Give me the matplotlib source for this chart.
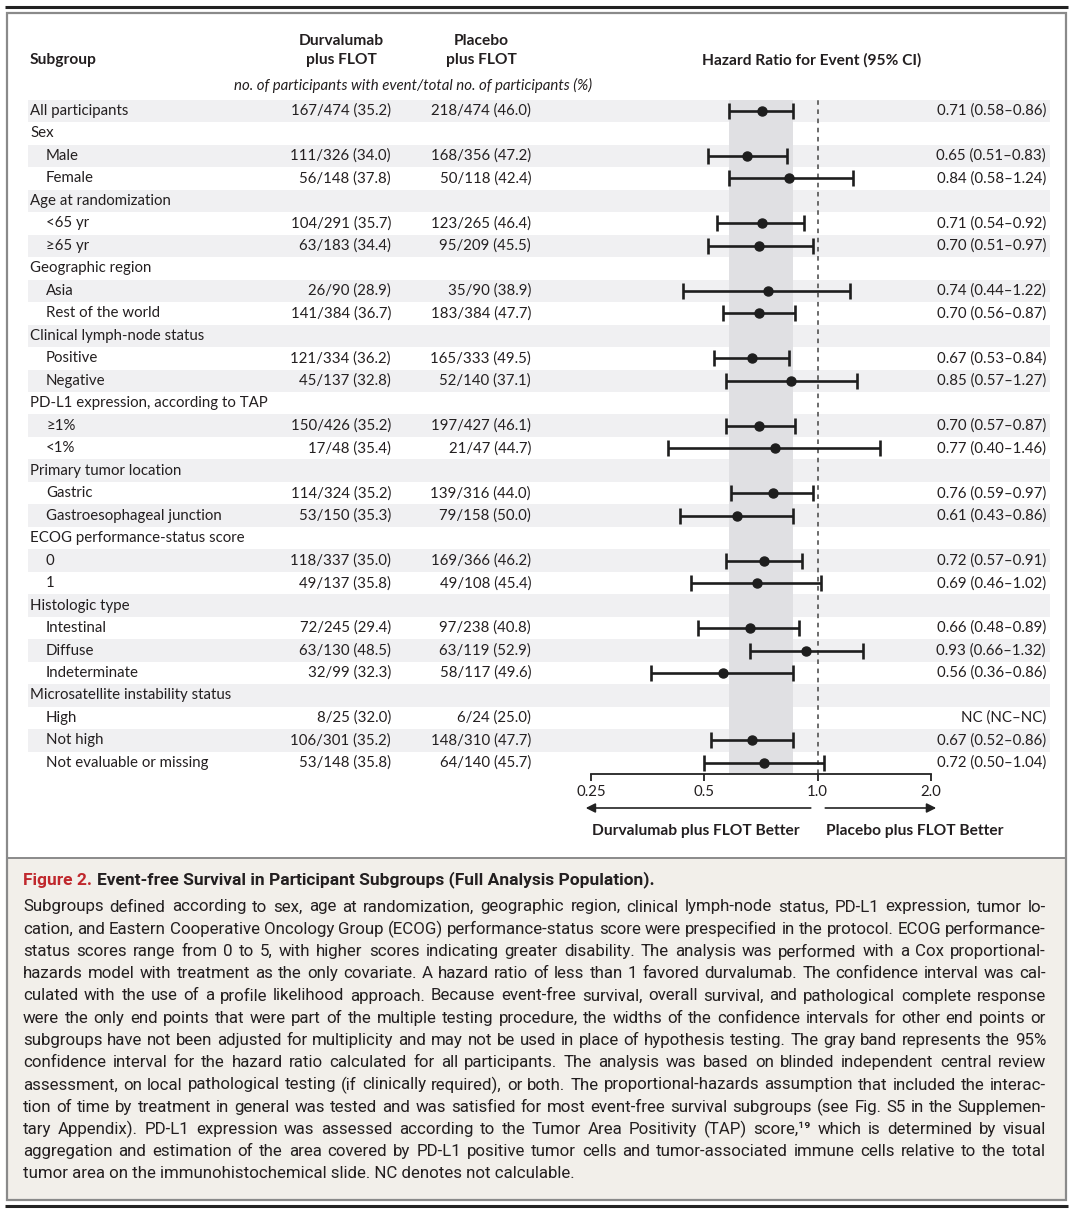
import numpy as np
import matplotlib
matplotlib.use("Agg")
import matplotlib.pyplot as plt
from matplotlib.patches import Rectangle

# ---- data ----
labels = ["All participants", "Sex", "Male", "Female", "Age at randomization", "<65 yr", "\u226565 yr",
          "Geographic region", "Asia", "Rest of the world", "Clinical lymph-node status", "Positive", "Negative",
          "PD-L1 expression, according to TAP", "\u22651%", "<1%", "Primary tumor location", "Gastric",
          "Gastroesophageal junction", "ECOG performance-status score", "0", "1", "Histologic type",
          "Intestinal", "Diffuse", "Indeterminate", "Microsatellite instability status", "High", "Not high",
          "Not evaluable or missing"]
indent = [0, 0, 1, 1, 0, 1, 1, 0, 1, 1, 0, 1, 1, 0, 1, 1, 0, 1, 1, 0, 1, 1, 0, 1, 1, 1, 0, 1, 1, 1]
durv = ["167/474 (35.2)", "", "111/326 (34.0)", "56/148 (37.8)", "", "104/291 (35.7)", "63/183 (34.4)",
        "", "26/90 (28.9)", "141/384 (36.7)", "", "121/334 (36.2)", "45/137 (32.8)", "", "150/426 (35.2)",
        "17/48 (35.4)", "", "114/324 (35.2)", "53/150 (35.3)", "", "118/337 (35.0)", "49/137 (35.8)", "",
        "72/245 (29.4)", "63/130 (48.5)", "32/99 (32.3)", "", "8/25 (32.0)", "106/301 (35.2)", "53/148 (35.8)"]
plac = ["218/474 (46.0)", "", "168/356 (47.2)", "50/118 (42.4)", "", "123/265 (46.4)", "95/209 (45.5)",
        "", "35/90 (38.9)", "183/384 (47.7)", "", "165/333 (49.5)", "52/140 (37.1)", "", "197/427 (46.1)",
        "21/47 (44.7)", "", "139/316 (44.0)", "79/158 (50.0)", "", "169/366 (46.2)", "49/108 (45.4)", "",
        "97/238 (40.8)", "63/119 (52.9)", "58/117 (49.6)", "", "6/24 (25.0)", "148/310 (47.7)", "64/140 (45.7)"]
nan = np.nan
hr = [0.71, nan, 0.65, 0.84, nan, 0.71, 0.70, nan, 0.74, 0.70, nan, 0.67, 0.85, nan, 0.70, 0.77, nan,
      0.76, 0.61, nan, 0.72, 0.69, nan, 0.66, 0.93, 0.56, nan, nan, 0.67, 0.72]
lo = [0.58, nan, 0.51, 0.58, nan, 0.54, 0.51, nan, 0.44, 0.56, nan, 0.53, 0.57, nan, 0.57, 0.40, nan,
      0.59, 0.43, nan, 0.57, 0.46, nan, 0.48, 0.66, 0.36, nan, nan, 0.52, 0.50]
hi = [0.86, nan, 0.83, 1.24, nan, 0.92, 0.97, nan, 1.22, 0.87, nan, 0.84, 1.27, nan, 0.87, 1.46, nan,
      0.97, 0.86, nan, 0.91, 1.02, nan, 0.89, 1.32, 0.86, nan, nan, 0.86, 1.04]
ticks = [0.25, 0.5, 1.0, 2.0]
tick_labels = ["0.25", "0.5", "1.0", "2.0"]

caption_lines = [
    "Subgroups defined according to sex, age at randomization, geographic region, clinical lymph-node status, PD-L1 expression, tumor lo-",
    "cation, and Eastern Cooperative Oncology Group (ECOG) performance-status score were prespecified in the protocol. ECOG performance-",
    "status scores range from 0 to 5, with higher scores indicating greater disability. The analysis was performed with a Cox proportional-",
    "hazards model with treatment as the only covariate. A hazard ratio of less than 1 favored durvalumab. The confidence interval was cal-",
    "culated with the use of a profile likelihood approach. Because event-free survival, overall survival, and pathological complete response",
    "were the only end points that were part of the multiple testing procedure, the widths of the confidence intervals for other end points or",
    "subgroups have not been adjusted for multiplicity and may not be used in place of hypothesis testing. The gray band represents the 95%",
    "confidence interval for the hazard ratio calculated for all participants. The analysis was based on blinded independent central review",
    "assessment, on local pathological testing (if clinically required), or both. The proportional-hazards assumption that included the interac-",
    "tion of time by treatment in general was tested and was satisfied for most event-free survival subgroups (see Fig. S5 in the Supplemen-",
    "tary Appendix). PD-L1 expression was assessed according to the Tumor Area Positivity (TAP) score,\u00b9\u2079 which is determined by visual",
    "aggregation and estimation of the area covered by PD-L1 positive tumor cells and tumor-associated immune cells relative to the total",
    "tumor area on the immunohistochemical slide. NC denotes not calculable.",
]


def hr_text(h, l, u):
    if np.isnan(h):
        return "NC (NC\u2013NC)"
    return "%.2f (%.2f\u2013%.2f)" % (h, l, u)


FONT = ["Lato", "DejaVu Sans"]
CAPFONT = ["Roboto", "DejaVu Sans"]
TXT = "#231f20"
FS = 10.8
BFS = 11.2

fig = plt.figure(figsize=(10.8, 12.16), dpi=100)
bg = fig.add_axes([0, 0, 1, 1])
bg.set_xlim(0, 1080)
bg.set_ylim(1216, 0)
bg.axis("off")

# frame
bg.plot([5, 1068], [7, 7], color="#222222", lw=2.2, solid_capstyle="butt")
bg.plot([5, 1068], [1206, 1206], color="#222222", lw=2.2, solid_capstyle="butt")
bg.add_patch(Rectangle((7, 858), 1059, 342, facecolor="#f2efea", edgecolor="none"))
bg.add_patch(Rectangle((7, 13), 1059, 1187, facecolor="none", edgecolor="#8a8a8a", lw=1.6))
bg.plot([7, 1066], [858, 858], color="#8a8a8a", lw=1.4)

row0 = 111
rowh = 22.48
n = len(labels)

# row shading
for i in range(0, n, 2):
    bg.add_patch(Rectangle((28, row0 + i * rowh - rowh / 2), 1022, rowh, facecolor="#f0f0f2", edgecolor="none"))

# headers
bg.text(30, 60, "Subgroup", fontsize=BFS, fontweight="bold", family=FONT, color=TXT, va="center")
bg.text(341, 41, "Durvalumab", fontsize=BFS, fontweight="bold", family=FONT, color=TXT, va="center", ha="center")
bg.text(341, 60, "plus FLOT", fontsize=BFS, fontweight="bold", family=FONT, color=TXT, va="center", ha="center")
bg.text(481, 41, "Placebo", fontsize=BFS, fontweight="bold", family=FONT, color=TXT, va="center", ha="center")
bg.text(481, 60, "plus FLOT", fontsize=BFS, fontweight="bold", family=FONT, color=TXT, va="center", ha="center")
bg.text(413, 85, "no. of participants with event/total no. of participants (%)", fontsize=FS, style="italic",
        family=FONT, color=TXT, va="center", ha="center")
bg.text(812, 60, "Hazard Ratio for Event (95% CI)", fontsize=BFS, fontweight="bold", family=FONT, color=TXT,
        va="center", ha="center")

for i in range(n):
    y = row0 + i * rowh
    bg.text(30 + 16 * indent[i], y, labels[i], fontsize=FS, family=FONT, color=TXT, va="center")
    if durv[i]:
        bg.text(391, y, durv[i], fontsize=FS, family=FONT, color=TXT, va="center", ha="right")
        bg.text(531, y, plac[i], fontsize=FS, family=FONT, color=TXT, va="center", ha="right")
        bg.text(1046, y, hr_text(hr[i], lo[i], hi[i]), fontsize=FS, family=FONT, color=TXT, va="center", ha="right")

# forest plot axes
top_px, bot_px = 100, 774
ax = fig.add_axes([591 / 1080, 1 - bot_px / 1216, 340 / 1080, (bot_px - top_px) / 1216])
ax.patch.set_visible(False)
ax.set_xscale("log")
ax.set_xlim(0.25, 2.0)
ax.set_ylim((bot_px - row0) / rowh, (top_px - row0) / rowh)
ax.axvspan(0.58, 0.86, color="#e0e0e3", zorder=1, lw=0)
ax.axvline(1.0, color="#444444", lw=1.1, ls=(0, (3, 3)), zorder=2)

rows = np.arange(n)
hr_a = np.array(hr)
lo_a = np.array(lo)
hi_a = np.array(hi)
ok = ~np.isnan(hr_a)
ax.errorbar(hr_a[ok], rows[ok], xerr=[hr_a[ok] - lo_a[ok], hi_a[ok] - hr_a[ok]], fmt="o", color="#1e1e1e",
            ms=6.5, capsize=5.5, elinewidth=1.9, capthick=1.9, zorder=3)

for s in ["top", "left", "right"]:
    ax.spines[s].set_visible(False)
ax.spines["bottom"].set_linewidth(1.3)
ax.spines["bottom"].set_color("#222222")
ax.set_yticks([])
ax.set_xticks(ticks)
ax.set_xticklabels(tick_labels, fontsize=FS, family=FONT, color=TXT)
ax.xaxis.set_minor_locator(matplotlib.ticker.NullLocator())
ax.tick_params(axis="x", direction="out", length=5, width=1.3, color="#222222", pad=3)

# direction arrows
ay = (808 - row0) / rowh
ax.annotate("", xy=(0.238, ay), xytext=(0.975, ay), xycoords="data", annotation_clip=False,
            arrowprops=dict(arrowstyle="-|>", color="#222222", lw=1.2, mutation_scale=14))
ax.annotate("", xy=(2.1, ay), xytext=(1.03, ay), xycoords="data", annotation_clip=False,
            arrowprops=dict(arrowstyle="-|>", color="#222222", lw=1.2, mutation_scale=14))
bg.text(696, 831, "Durvalumab plus FLOT Better", fontsize=BFS, fontweight="bold", family=FONT, color=TXT,
        va="center", ha="center")
bg.text(915, 831, "Placebo plus FLOT Better", fontsize=BFS, fontweight="bold", family=FONT, color=TXT,
        va="center", ha="center")

# caption
renderer = fig.canvas.get_renderer()
x_left, x_right = 23, 1046

# pick the largest caption size whose widest line still leaves room between words
CFS = 13.0
while CFS > 8:
    need = 0
    for line in caption_lines[:-1]:
        words = line.split(" ")
        tmp = [bg.text(0, 0, w, fontsize=CFS, family=CAPFONT) for w in words]
        tot = sum(o.get_window_extent(renderer).width for o in tmp) + 3.2 * (len(words) - 1)
        for o in tmp:
            o.remove()
        need = max(need, tot)
    if need <= x_right - x_left:
        break
    CFS -= 0.1

t1 = bg.text(x_left, 880, "Figure 2.", fontsize=CFS + 0.3, fontweight="bold", family=CAPFONT, color="#c0282d",
             va="center")
w1 = t1.get_window_extent(renderer).width
bg.text(x_left + w1 + 5, 880, "Event-free Survival in Participant Subgroups (Full Analysis Population).",
        fontsize=CFS + 0.3, fontweight="bold", family=CAPFONT, color=TXT, va="center")

for k, line in enumerate(caption_lines):
    y = 907 + k * 22.25
    if k == len(caption_lines) - 1:
        bg.text(x_left, y, line, fontsize=CFS, family=CAPFONT, color=TXT, va="center")
        continue
    words = line.split(" ")
    objs = [bg.text(0, y, w, fontsize=CFS, family=CAPFONT, color=TXT, va="center") for w in words]
    widths = [o.get_window_extent(renderer).width for o in objs]
    gap = (x_right - x_left - sum(widths)) / (len(words) - 1)
    x = x_left
    for o, w in zip(objs, widths):
        o.set_x(x)
        x += w + gap

fig.savefig("out.png", dpi=100)
